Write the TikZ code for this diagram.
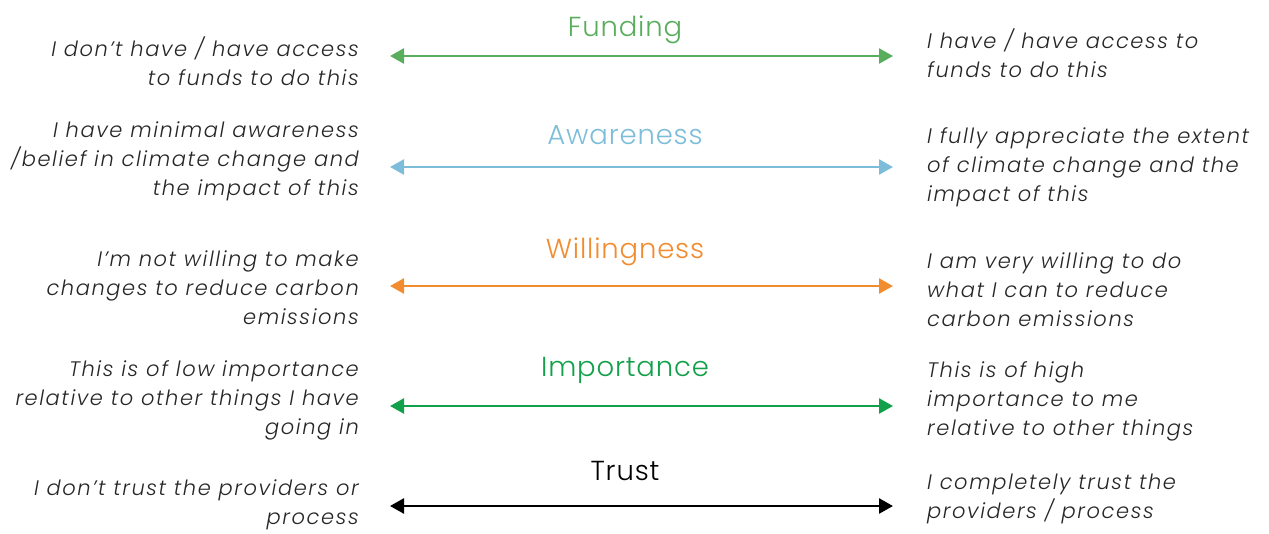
\documentclass[tikz,border=0pt]{standalone}
\usepackage{fontspec}
\setmainfont{Poppins}[UprightFont=* Light, ItalicFont=* Light Italic, LetterSpace=7.5]
\newfontfamily\titlefont{Poppins}[UprightFont=* Light, LetterSpace=3]
\usetikzlibrary{arrows.meta}
\definecolor{fundc}{HTML}{5BAD5E}
\definecolor{awarec}{HTML}{7DBDD9}
\definecolor{willc}{HTML}{F28C30}
\definecolor{impc}{HTML}{13A04A}
\definecolor{trustc}{HTML}{000000}
\tikzset{
  scale arrow/.style={line width=2.6pt, {Triangle[length=14pt,width=15pt]}-{Triangle[length=14pt,width=15pt]}},
  scale title/.style={font=\titlefont\fontsize{27.5}{30}\selectfont, inner sep=0pt, anchor=base},
  low end/.style={font=\itshape\fontsize{21}{29}\selectfont, align=right, anchor=east, inner sep=0pt, text=black!85},
  high end/.style={font=\itshape\fontsize{21}{29}\selectfont, align=left, anchor=west, inner sep=0pt, text=black!85},
}
\begin{document}
\begin{tikzpicture}[x=1pt,y=-1pt]
\useasboundingbox (0,0) rectangle (1269,533);
% Funding
\coordinate (fL) at (390,56); \coordinate (fR) at (893,56);
\draw[scale arrow, fundc] (fL) -- (fR);
\node[scale title, text=fundc] (fT) at (625,36) {Funding};
\node[low end] (fLo) at (359,61) {I don’t have / have access\\to funds to do this};
\node[high end] (fHi) at (927,53) {I have / have access to\\funds to do this};
% Awareness
\coordinate (aL) at (390,167); \coordinate (aR) at (893,167);
\draw[scale arrow, awarec] (aL) -- (aR);
\node[scale title, text=awarec] (aT) at (625,144) {Awareness};
\node[low end] (aLo) at (359,161) {I have minimal awareness\\/belief in climate change and\\the impact of this};
\node[high end] (aHi) at (927,167) {I fully appreciate the extent\\of climate change and the\\impact of this};
% Willingness
\coordinate (wL) at (390,286); \coordinate (wR) at (893,286);
\draw[scale arrow, willc] (wL) -- (wR);
\node[scale title, text=willc] (wT) at (625,258) {Willingness};
\node[low end] (wLo) at (359,288) {I’m not willing to make\\changes to reduce carbon\\emissions};
\node[high end] (wHi) at (927,290) {I am very willing to do\\what I can to reduce\\carbon emissions};
% Importance
\coordinate (iL) at (390,406); \coordinate (iR) at (893,406);
\draw[scale arrow, impc] (iL) -- (iR);
\node[scale title, text=impc] (iT) at (625,376) {Importance};
\node[low end] (iLo) at (359,400) {This is of low importance\\relative to other things I have\\going in};
\node[high end] (iHi) at (927,401) {This is of high\\importance to me\\relative to other things};
% Trust
\coordinate (tL) at (390,506); \coordinate (tR) at (893,506);
\draw[scale arrow, trustc] (tL) -- (tR);
\node[scale title, text=trustc] (tT) at (625,480) {Trust};
\node[low end] (tLo) at (359,505) {I don’t trust the providers or\\process};
\node[high end] (tHi) at (927,499) {I completely trust the\\providers / process};
\end{tikzpicture}
\end{document}
